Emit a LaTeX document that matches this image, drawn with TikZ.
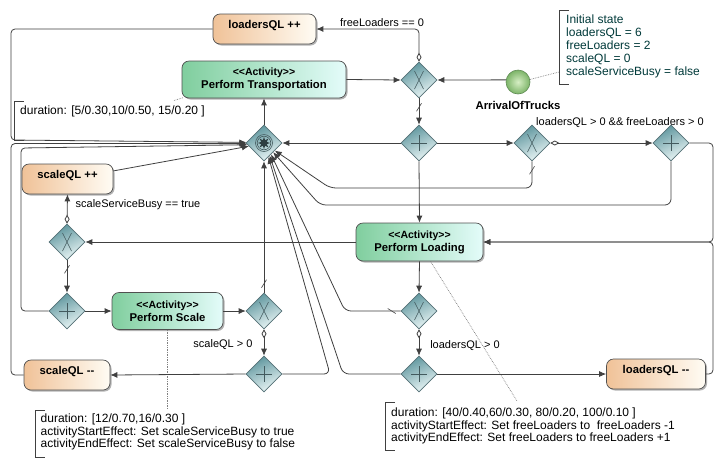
\documentclass[tikz,border=0pt]{standalone}
\usepackage{fontspec}
\setmainfont{Liberation Sans}
\usetikzlibrary{arrows.meta,shapes.geometric,shadows,decorations.markings}
\definecolor{ln}{RGB}{64,64,64}
\definecolor{boxE}{RGB}{80,80,80}
\definecolor{orL}{RGB}{240,194,152}
\definecolor{orR}{RGB}{255,252,244}
\definecolor{grL}{RGB}{128,206,158}
\definecolor{grR}{RGB}{228,252,250}
\definecolor{gwT}{RGB}{92,148,156}
\definecolor{gwB}{RGB}{236,247,247}
\definecolor{gwE}{RGB}{84,112,118}
\definecolor{noteT}{RGB}{0,58,58}
\definecolor{stL}{RGB}{214,238,196}
\definecolor{stD}{RGB}{124,180,104}
\definecolor{stE}{RGB}{96,140,84}
\begin{document}
\begin{tikzpicture}[x=1pt,y=-1pt,
  box/.style={draw=boxE, line width=0.7pt, rounded corners=7pt, inner sep=0pt, align=center,
    drop shadow={shadow xshift=1.5pt, shadow yshift=-1.5pt, fill=black, opacity=0.3},
    font=\bfseries\fontsize{11.3}{13}\selectfont},
  obox/.style={box, left color=orL, right color=orR, text height=8pt, text depth=9pt, minimum height=30pt},
  abox/.style={box, left color=grL, right color=grR, minimum height=37pt},
  gw/.style={diamond, aspect=1, draw=gwE, line width=0.6pt, top color=gwT, bottom color=gwB,
    shading angle=25, minimum width=36pt, minimum height=36pt, inner sep=0pt},
  startev/.style={circle, draw=stE, line width=0.6pt, inner color=stL, outer color=stD,
    minimum size=24pt, inner sep=0pt},
  flow/.style={draw=ln, line width=0.8pt, rounded corners=4pt, -{Latex[length=7pt,width=6pt]}},
  cflow/.style={flow, {Diamond[open,length=9pt,width=5pt]}-{Latex[length=7pt,width=6pt]}},
  dflow/.style={flow, postaction={decorate, decoration={markings,
    mark=at position 9pt with {\draw[ln, line width=0.6pt, -] (4pt,-2.5pt) -- (-4pt,2.5pt);}}}},
  lbl/.style={font=\fontsize{11}{13}\selectfont, inner sep=1pt},
  note/.style={font=\fontsize{12}{12.6}\selectfont, align=left, inner sep=2pt, anchor=north west},
  brk/.style={draw=ln, line width=0.6pt},
  dots/.style={draw=gray, line width=0.7pt, densely dotted},
  sym/.style={draw=gwE!80!black, line width=0.6pt},
]
\fill[white] (0,0) rectangle (723,467);
\useasboundingbox (0,0) rectangle (723,467);

% boxes
\node[obox, minimum width=103pt] (lqp) at (264.5,29) {loadersQL ++};
\node[abox, minimum width=164pt] (pt) at (264,79.5) {{\fontsize{10.5}{13}\selectfont <\kern0pt<Activity>\kern0pt>}\\Perform Transportation};
\node[obox, minimum width=91pt] (sqp) at (67.5,179) {scaleQL ++};
\node[abox, minimum width=111pt] (ps) at (167.5,311) {{\fontsize{10.5}{13}\selectfont <\kern0pt<Activity>\kern0pt>}\\Perform Scale};
\node[obox, minimum width=86pt] (sqm) at (67,375) {scaleQL -\kern0pt-};
\node[abox, minimum width=127pt, minimum height=38pt] (pl) at (419.5,242) {{\fontsize{10.5}{13}\selectfont <\kern0pt<Activity>\kern0pt>}\\Perform Loading};
\node[obox, minimum width=99pt] (lqm) at (656,374) {loadersQL -\kern0pt-};

% gateways
\node[gw] (x1) at (419,80) {};
\node[gw] (f1) at (419,143) {};
\node[gw] (x2) at (532,143) {};
\node[gw] (p2) at (671,143) {};
\node[gw] (cm) at (264,143) {};
\node[gw] (x3) at (67,242) {};
\node[gw] (p3) at (67,311) {};
\node[gw] (x4) at (264,311) {};
\node[gw] (p4) at (264,374) {};
\node[gw] (x5) at (419,311) {};
\node[gw] (p5) at (419,374) {};
\foreach \n in {x1,x2,x3,x4,x5}
  \draw[sym] (\n.center) +(-4.5,-9) -- +(4.5,9) +(4.5,-9) -- +(-4.5,9);
\foreach \n in {f1,p2,p3,p4,p5}
  \draw[sym] (\n.center) +(-8,0) -- +(8,0) +(0,-8) -- +(0,8);
\draw[sym] (cm.center) circle[radius=8.5pt];
\draw[sym] (cm.center) circle[radius=6.8pt];
\fill[gwE!55!black] (cm.center) +(0:6) -- +(22.5:3) -- +(45:6) -- +(67.5:3) -- +(90:6)
  -- +(112.5:3) -- +(135:6) -- +(157.5:3) -- +(180:6) -- +(202.5:3) -- +(225:6)
  -- +(247.5:3) -- +(270:6) -- +(292.5:3) -- +(315:6) -- +(337.5:3) -- cycle;

% start event
\node[startev] (arr) at (518,82) {};
\node[font=\bfseries\fontsize{11.3}{13}\selectfont, inner sep=0pt] (arrl) at (518,105) {ArrivalOfTrucks};

% labels
\node[lbl] (l1) at (382,23) {freeLoaders == 0};
\node[lbl] (l2) at (620,123) {loadersQL > 0 \&\& freeLoaders > 0};
\node[lbl] (l3) at (138,205) {scaleServiceBusy == true};
\node[lbl] (l4) at (223,345) {scaleQL > 0};
\node[lbl] (l5) at (465,346) {loadersQL > 0};

% notes
\node[note] (tn) at (18,104) {duration: [5/0.30,10/0.50, 15/0.20 ]};
\node[note] (sn) at (38.5,411.5) {duration: [12/0.70,16/0.30 ]\\activityStartEffect: Set scaleServiceBusy to true\\activityEndEffect: Set scaleServiceBusy to false};
\node[note] (lnote) at (389,405.5) {duration: [40/0.40,60/0.30, 80/0.20, 100/0.10 ]\\activityStartEffect: Set freeLoaders to\ \ freeLoaders -1\\activityEndEffect: Set freeLoaders to freeLoaders +1};
\node[note, text=noteT, font=\fontsize{12}{13}\selectfont] (inote) at (564,12.3) {Initial state\\loadersQL = 6\\freeLoaders = 2\\scaleQL = 0\\scaleServiceBusy = false};
\draw[brk] (24,101) -- (14,101) -- (14,140) -- (24,140);
\draw[brk] (45,410) -- (35,410) -- (35,457) -- (45,457);
\draw[brk] (395,402) -- (385,402) -- (385,450) -- (395,450);
\draw[brk] (569,10) -- (559,10) -- (559,84) -- (569,84);
\coordinate (tnA) at (174,100.5);
\coordinate (tnB) at (183.5,97.5);
\draw[dots] (tnA) -- (tnB);
\coordinate (snA) at (167.5,409);
\draw[dots] (ps.south) -- (snA);
\coordinate (lnA) at (517,401);
\draw[dots] ([xshift=11pt]pl.south) -- (lnA);
\coordinate (inA) at (559,72);
\draw[dots] (arr.12) -- (inA);

% flows
\draw[flow] (pt.east) -- (x1.west);
\draw[flow] (arr.170) -- (x1.east);
\draw[cflow] (x1.north) -- (x1.north |- lqp.east) -- (lqp.east);
\draw[dflow] (x1.south) -- (f1.north);
\draw[flow] (f1.east) -- (x2.west);
\draw[flow] (f1.south) -- (pl.north);
\draw[flow] (f1.west) -- (cm.east);
\draw[cflow] (x2.east) -- (p2.west);
\draw[dflow, rounded corners=6pt] (x2.south) -- (532,188) -- (330,188) -- (cm.-35);
\draw[flow, rounded corners=6pt] (p2.south) -- (671,205) -- (320,205) -- (cm.-45);
\draw[flow] (p2.east) -- (713,143) |- (pl.east);
\draw[flow] (lqm.east) -- (713,374) |- (pl.east);
\draw[flow] (pl.west) -- (x3.east);
\draw[cflow] (x3.north) -- (sqp.south);
\draw[dflow] (x3.south) -- (p3.north);
\draw[flow] (p3.east) -- (ps.west);
\draw[flow] (p3.west) -- (21,311) -- (21,148) -- (cm.186);
\draw[flow] (sqm.west) -- (11,375) -- (11,143.5) -- (cm.182);
\draw[flow] (lqp.west) -- (11,29) -- (11,140) -- (cm.178);
\draw[flow] (sqp.10) -- (cm.192);
\draw[flow] (ps.east) -- (x4.west);
\draw[dflow] (x4.north) -- (cm.south);
\draw[cflow] (x4.south) -- (p4.north);
\draw[flow] (p4.west) -- (sqm.east);
\draw[flow, rounded corners=6pt] (p4.east) -- (330,374) -- (cm.-72);
\draw[flow] (pl.south) -- (x5.north);
\draw[cflow] (x5.south) -- (p5.north);
\draw[dflow, rounded corners=6pt] (x5.west) -- (345,311) -- (cm.-58);
\draw[flow, rounded corners=6pt] (p5.west) -- (343,374) -- (cm.-66);
\draw[flow] (p5.east) -- (lqm.west);
\draw[flow] (cm.north) -- (pt.south);
\end{tikzpicture}
\end{document}
